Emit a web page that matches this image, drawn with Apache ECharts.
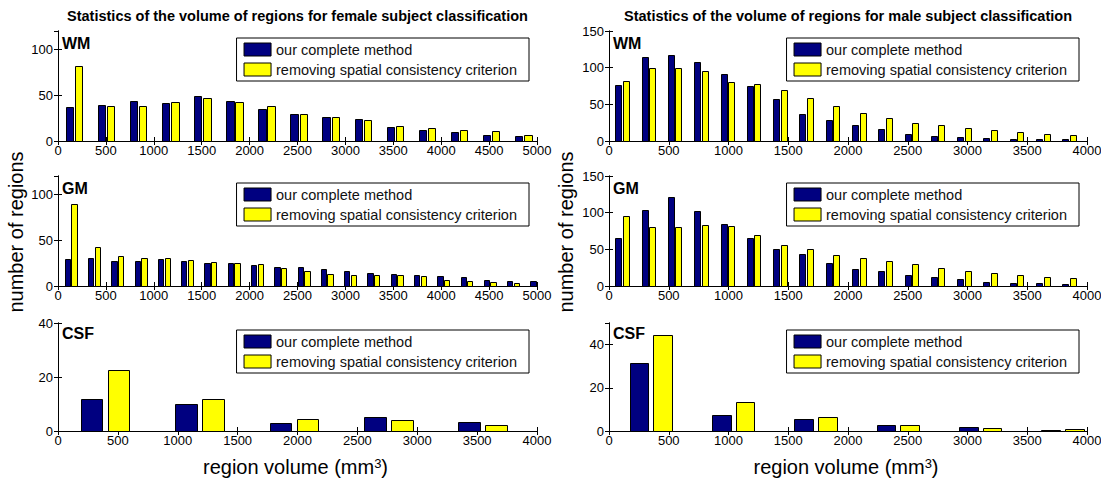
<!DOCTYPE html>
<html>
<head>
<meta charset="utf-8">
<script src="https://cdn.jsdelivr.net/npm/echarts@6/dist/echarts.min.js"></script>
<style>
html,body{margin:0;padding:0;background:#fff;}
#chart{width:1101px;height:483px;}
</style>
</head>
<body>
<div id="chart"></div>
<script>
// ---------- data ----------
const seriesNames = ['our complete method', 'removing spatial consistency criterion'];
const columnTitles = ['Statistics of the volume of regions for female subject classification',
                      'Statistics of the volume of regions for male subject classification'];
const panelLabels = ['WM', 'GM', 'CSF'];
const yAxisName = 'number of regions';

// female, WM
const femaleWmBins = [167, 502, 837, 1172, 1507, 1842, 2177, 2512, 2847, 3182, 3517, 3852, 4187, 4522, 4857];
const femaleWmOurs = [37, 39.5, 44, 42, 49, 44, 35, 30, 26, 24, 15.5, 12, 9.5, 7, 6];
const femaleWmNoSpatial = [82, 38.5, 38.5, 43, 46.5, 43, 38, 30, 26, 23, 16.5, 14, 12, 10.5, 7];
// female, GM
const femaleGmBins = [133, 376, 619, 862, 1105, 1348, 1591, 1834, 2077, 2320, 2563, 2806, 3049, 3292, 3535, 3778, 4021, 4264, 4507, 4750, 4993];
const femaleGmOurs = [30, 31, 27, 27, 29, 27, 25, 25, 23, 20.5, 21, 19, 16.5, 14.5, 13, 11.5, 10.5, 9.5, 7, 5.5, 5.5];
const femaleGmNoSpatial = [89, 43, 33, 31, 31, 28, 26, 25, 23.5, 20, 16.5, 13, 11.5, 11.5, 11.5, 10.5, 7, 5.5, 4.5, 3.5, 2];
// female, CSF
const femaleCsfBins = [394, 1182, 1970, 2758, 3546];
const femaleCsfOurs = [12, 10, 2.8, 5.1, 3.2];
const femaleCsfNoSpatial = [22.5, 12, 4.4, 3.9, 2.3];

// male, WM
const maleWmBins = [110, 330, 550, 770, 990, 1210, 1430, 1650, 1870, 2090, 2310, 2530, 2750, 2970, 3190, 3410, 3630, 3850];
const maleWmOurs = [76, 114, 117, 108, 92, 75, 57, 37.5, 28, 22, 16, 10, 7, 5.5, 4, 3, 3, 2.5];
const maleWmNoSpatial = [82, 100, 99, 95, 81, 78, 69, 58.5, 47.5, 38.5, 31, 25, 22, 17.5, 15, 12.5, 10, 8.5];
// male, GM
const maleGmBins = [110, 330, 550, 770, 990, 1210, 1430, 1650, 1870, 2090, 2310, 2530, 2750, 2970, 3190, 3410, 3630, 3850];
const maleGmOurs = [65, 104, 121, 102, 84, 65, 51, 43, 32, 23, 20, 15, 12, 9, 6, 4.5, 4.5, 3];
const maleGmNoSpatial = [95, 80, 80, 83, 82, 69, 56, 51, 42, 38, 34, 30, 25, 21, 18, 15, 12, 10.5];
// male, CSF
const maleCsfBins = [350, 1039, 1728, 2417, 3106, 3795];
const maleCsfOurs = [31.6, 7.5, 5.6, 2.9, 1.8, 0.5];
const maleCsfNoSpatial = [44.3, 13.4, 6.4, 2.9, 1.5, 0.8];

// axis limits (tick ranges)
const femaleXMax = [5000, 5000, 4000];
const maleXMax = [4000, 4000, 4000];
const xTickStep = 500;
const femaleYMax = [120, 120, 40];
const femaleYStep = [50, 50, 20];
const maleYMax = [150, 150, 50];
const maleYStep = [50, 50, 20];

// ---------- layout / style ----------
const colLeft = [58, 609];
const colWidth = [479, 478];
const rowTop = [31, 176, 323];
const rowHeight = [110, 110, 108];
const barColors = ['#000080', '#ffff00'];
const FONT = 'Arial, "Liberation Sans", sans-serif';

const panels = [
  [0, 0, femaleWmBins, femaleWmOurs, femaleWmNoSpatial, femaleXMax[0], femaleYMax[0], femaleYStep[0]],
  [0, 1, femaleGmBins, femaleGmOurs, femaleGmNoSpatial, femaleXMax[1], femaleYMax[1], femaleYStep[1]],
  [0, 2, femaleCsfBins, femaleCsfOurs, femaleCsfNoSpatial, femaleXMax[2], femaleYMax[2], femaleYStep[2]],
  [1, 0, maleWmBins, maleWmOurs, maleWmNoSpatial, maleXMax[0], maleYMax[0], maleYStep[0]],
  [1, 1, maleGmBins, maleGmOurs, maleGmNoSpatial, maleXMax[1], maleYMax[1], maleYStep[1]],
  [1, 2, maleCsfBins, maleCsfOurs, maleCsfNoSpatial, maleXMax[2], maleYMax[2], maleYStep[2]]
];

function makeRender(step, side) {
  return function (params, api) {
    const c = api.value(0), v = api.value(1);
    const mid = c + side * 0.1429 * step;
    const half = 0.1143 * step;
    const p0 = api.coord([mid - half, v]);
    const p1 = api.coord([mid + half, 0]);
    const x0 = Math.round(p0[0]) + 0.5, x1 = Math.round(p1[0]) + 0.5;
    const y0 = Math.round(p0[1]) + 0.5, y1 = Math.round(p1[1]) + 0.5;
    const cs = params.coordSys;
    const shape = echarts.graphic.clipRectByRect(
      { x: x0, y: y0, width: x1 - x0, height: y1 - y0 },
      { x: cs.x, y: cs.y - 1, width: cs.width + 0.5, height: cs.height + 2 });
    if (!shape) return null;
    return {
      type: 'rect',
      shape: shape,
      style: { fill: api.visual('color'), stroke: '#000', lineWidth: 1 }
    };
  };
}

function plain(v) { return String(v); }

const grid = [], xAxis = [], yAxis = [], series = [], legend = [];
panels.forEach(function (p, i) {
  const col = p[0], row = p[1], bins = p[2], a = p[3], b = p[4], xMax = p[5], yMax = p[6], yStep = p[7];
  grid.push({ left: colLeft[col], top: rowTop[row], width: colWidth[col], height: rowHeight[row], containLabel: false, outerBoundsMode: 'none' });
  const common = {
    gridIndex: i, type: 'value', min: 0,
    axisLine: { show: true, lineStyle: { color: '#000', width: 1 } },
    axisTick: { show: true, inside: true, length: 4, lineStyle: { color: '#000', width: 1 } },
    splitLine: { show: false }
  };
  xAxis.push(Object.assign({}, common, {
    max: xMax, interval: xTickStep, position: 'bottom',
    axisLabel: { show: true, fontSize: 13, color: '#000', fontFamily: FONT, margin: 3, showMinLabel: true, showMaxLabel: true, formatter: plain }
  }));
  xAxis.push(Object.assign({}, common, {
    max: xMax, interval: xTickStep, position: 'top', axisLabel: { show: false }
  }));
  yAxis.push(Object.assign({}, common, {
    max: yMax, interval: yStep, position: 'left',
    axisLabel: { show: true, fontSize: 13, color: '#000', fontFamily: FONT, margin: 5, showMinLabel: true, showMaxLabel: yMax % yStep === 0, formatter: plain }
  }));
  yAxis.push(Object.assign({}, common, {
    max: yMax, interval: yStep, position: 'right', axisLabel: { show: false }
  }));
  const step = bins[1] - bins[0];
  [a, b].forEach(function (vals, k) {
    series.push({
      type: 'custom',
      name: seriesNames[k],
      xAxisIndex: 2 * i, yAxisIndex: 2 * i,
      itemStyle: { color: barColors[k], borderColor: '#000', borderWidth: 1 },
      renderItem: makeRender(step, k === 0 ? -1 : 1),
      encode: { x: 0, y: 1 },
      data: bins.map(function (c, j) { return [c, vals[j]]; }),
      silent: true,
      animation: false
    });
  });
  legend.push({
    orient: 'vertical',
    right: col === 0 ? 572 : 22,
    top: rowTop[row] + 7,
    icon: 'rect',
    itemWidth: 27, itemHeight: 13, itemGap: 5,
    padding: [4, 12, 4, 7],
    borderColor: '#000', borderWidth: 1, borderRadius: 0,
    backgroundColor: '#fff',
    selectedMode: false,
    textStyle: { fontSize: 14.5, color: '#111', fontFamily: FONT },
    data: seriesNames.map(function (n, k) {
      return { name: n, itemStyle: { color: barColors[k], borderColor: '#000', borderWidth: 1 } };
    })
  });
});

const graphic = [];
[0, 1].forEach(function (col) {
  const cx = colLeft[col] + colWidth[col] / 2;
  graphic.push({
    type: 'text', silent: true,
    style: { text: columnTitles[col], x: cx, y: 16, textAlign: 'center', textVerticalAlign: 'middle',
             align: 'center', verticalAlign: 'middle', font: 'bold 14.5px ' + FONT, fill: '#000' }
  });
  graphic.push({
    type: 'text', silent: true, rotation: Math.PI / 2,
    x: col === 0 ? 16 : 566, y: 232,
    style: { text: yAxisName, x: 0, y: 0, textAlign: 'center', textVerticalAlign: 'middle',
             align: 'center', verticalAlign: 'middle', font: '20px ' + FONT, fill: '#000' }
  });
  graphic.push({
    type: 'text', silent: true,
    style: { text: 'region volume (mm{sup|3})', x: cx - 2, y: 467, textAlign: 'center', textVerticalAlign: 'middle',
             align: 'center', verticalAlign: 'middle', font: '20px ' + FONT, fill: '#000',
             rich: { sup: { fontSize: 13, fontFamily: FONT, verticalAlign: 'top', lineHeight: 10, padding: [0, 0, 12, 0] } } }
  });
  [0, 1, 2].forEach(function (row) {
    graphic.push({
      type: 'text', silent: true,
      style: { text: panelLabels[row], x: colLeft[col] + 4, y: rowTop[row] + (row === 2 ? 10 : 12),
               textAlign: 'left', textVerticalAlign: 'middle', align: 'left', verticalAlign: 'middle',
               font: 'bold 16px ' + FONT, fill: '#000' }
    });
  });
});

const chart = echarts.init(document.getElementById('chart'), null, { renderer: 'svg' });
chart.setOption({
  animation: false,
  backgroundColor: '#fff',
  textStyle: { fontFamily: FONT },
  grid: grid, xAxis: xAxis, yAxis: yAxis, series: series, legend: legend, graphic: graphic
});
</script>
</body>
</html>
